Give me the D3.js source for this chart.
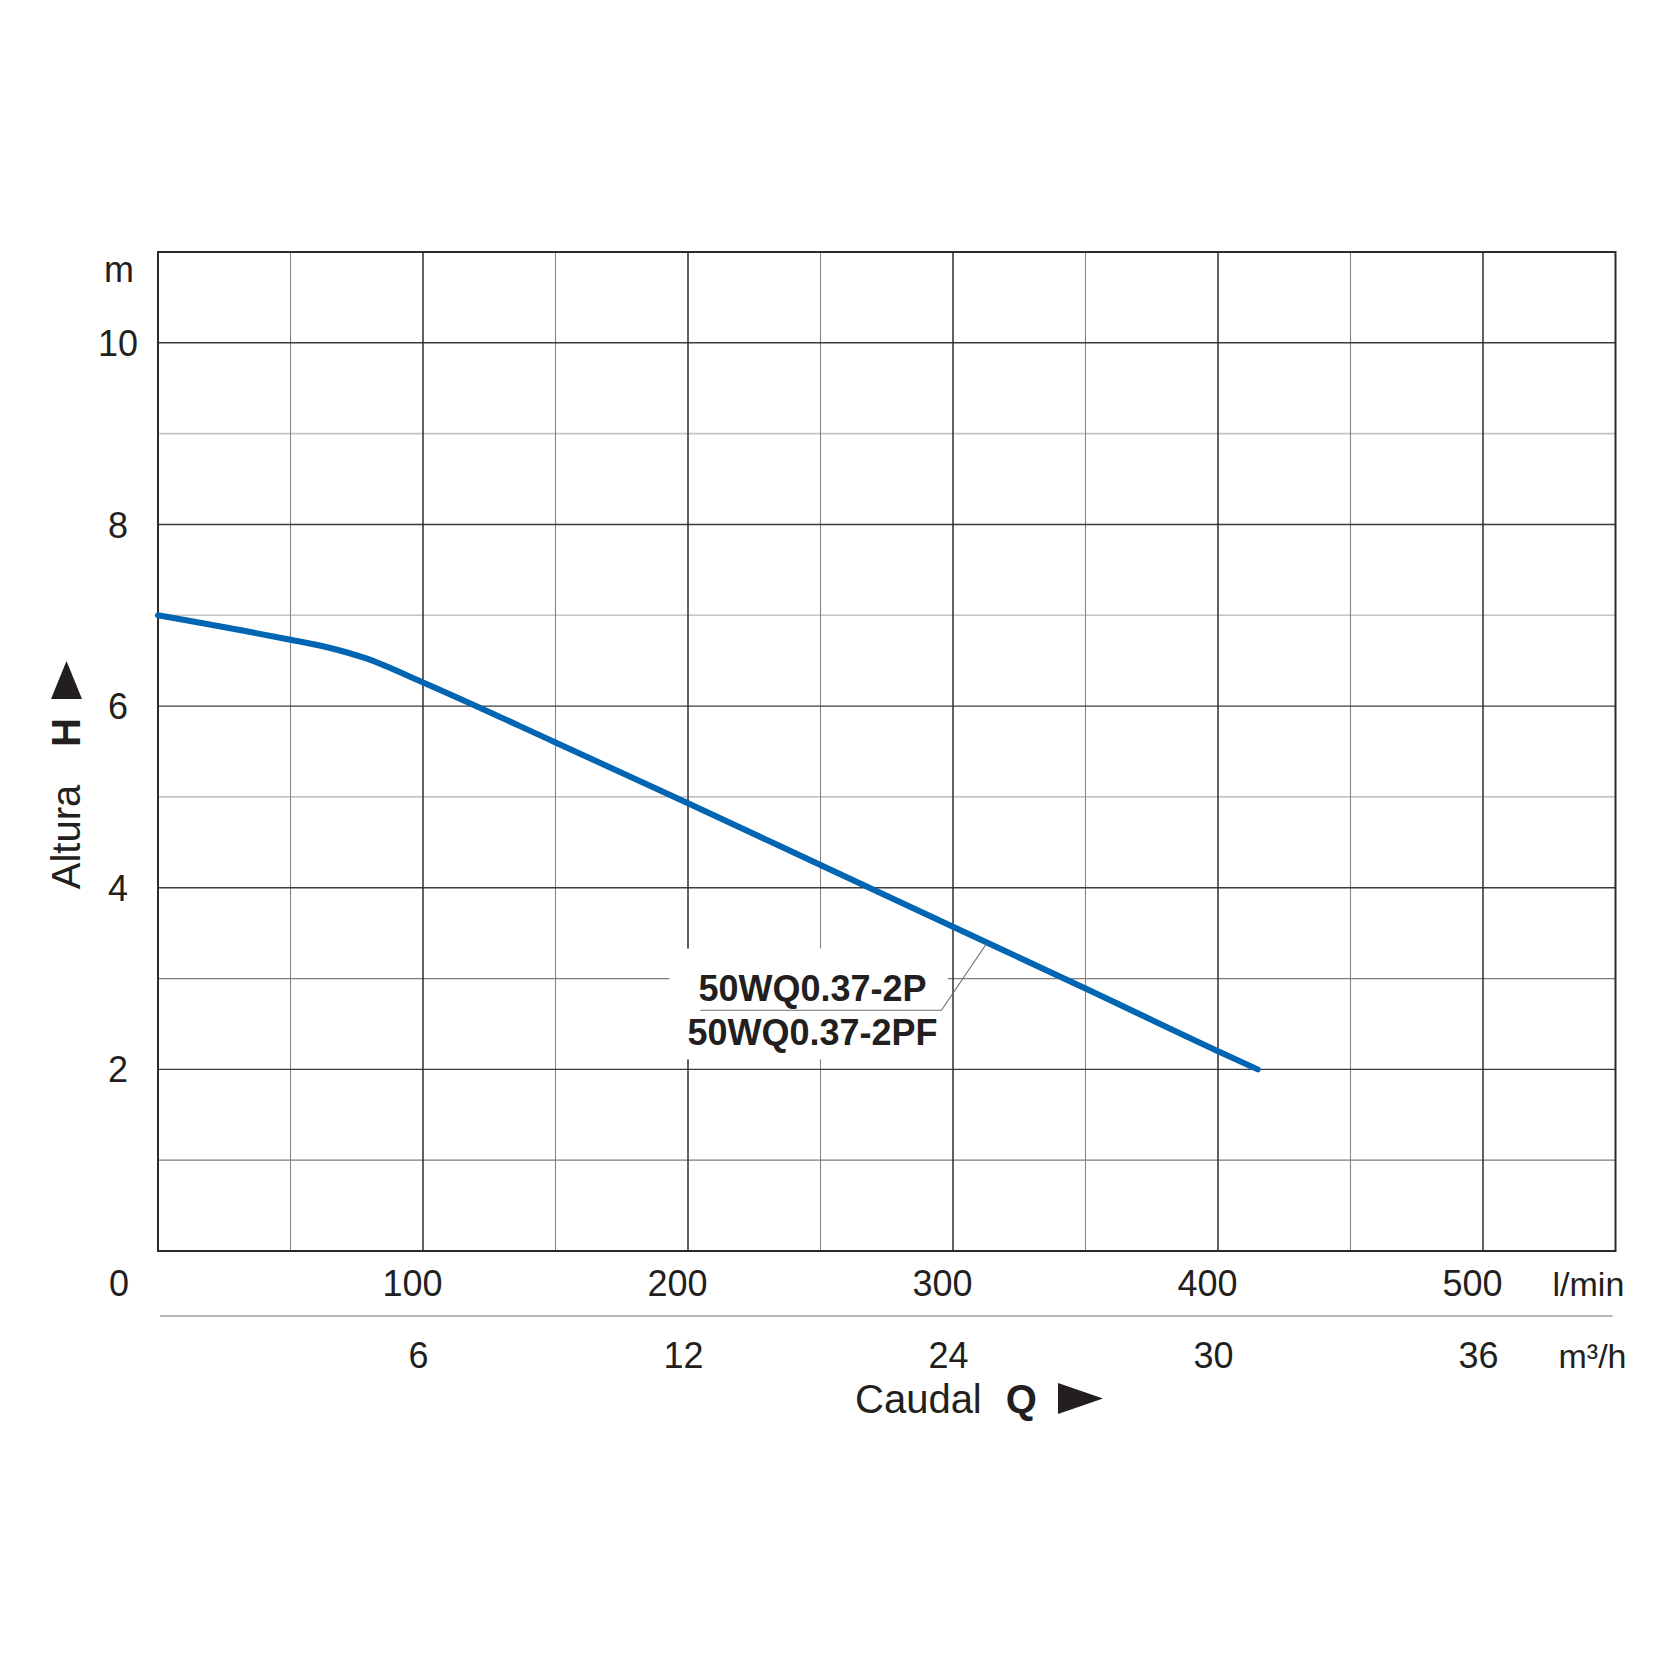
<html>
<head>
<meta charset="utf-8">
<script src="https://d3js.org/d3.v7.min.js"></script>
<style>
  body { margin: 0; background: #fff; }
  text { font-family: "Liberation Sans", Arial, Helvetica, sans-serif; fill: #231f20; }
</style>
</head>
<body>
<div id="chart"></div>
<script>
// pump curve: flow in l/min, head in m
const flowLmin = [0, 50, 65, 78, 100, 150, 200, 250, 300, 350, 400, 415];
const headM    = [7.0, 6.73, 6.64, 6.53, 6.26, 5.60, 4.93, 4.25, 3.57, 2.89, 2.20, 2.0];

// axis ticks and labels
const lminTicks  = [100, 200, 300, 400, 500];
const m3hLabels  = ["6", "12", "24", "30", "36"];
const headTicks  = [2, 4, 6, 8, 10];
const xMajor = [100, 200, 300, 400, 500];
const xMinor = [50, 150, 250, 350, 450];
const yMajor = [2, 4, 6, 8, 10];
const yMinorDark  = [1, 3];
const yMinorLight = [5, 7, 9];

const modelNames = ["50WQ0.37-2P", "50WQ0.37-2PF"];
const labelAnchor = [313, 3.40];   // where the leader touches the curve

let margin = {top: 252, left: 158},
    width = 1457.5,
    height = 999;

const svg = d3.select("#chart")
  .append("svg")
    .attr("width", 1667)
    .attr("height", 1667)
  .append("g")
    .attr("transform", `translate(${margin.left}, ${margin.top})`);

const x = d3.scaleLinear().domain([0, 550]).range([0, width]);
const y = d3.scaleLinear().domain([0, 11]).range([height, 0]);

// grid lines
function vgrid(vals, color, w) {
  svg.append("g").selectAll("line").data(vals).join("line")
    .attr("x1", d => x(d)).attr("x2", d => x(d))
    .attr("y1", 0).attr("y2", height)
    .attr("stroke", color).attr("stroke-width", w);
}
function hgrid(vals, color, w) {
  svg.append("g").selectAll("line").data(vals).join("line")
    .attr("x1", 0).attr("x2", width)
    .attr("y1", d => y(d)).attr("y2", d => y(d))
    .attr("stroke", color).attr("stroke-width", w);
}
hgrid(yMinorLight, "#c4c4c4", 1.6);
hgrid(yMinorDark, "#7c7c7c", 1.2);
vgrid(xMinor, "#858585", 1.1);
hgrid(yMajor, "#3c3c3c", 1.4);
vgrid(xMajor, "#2e2e2e", 1.5);

// frame
svg.append("rect")
  .attr("x", 0).attr("y", 0)
  .attr("width", width).attr("height", height)
  .attr("fill", "none")
  .attr("stroke", "#2b2b2b")
  .attr("stroke-width", 2);

// white box behind the model label
svg.append("rect")
  .attr("x", x(193)).attr("y", y(3.33))
  .attr("width", x(298) - x(193))
  .attr("height", y(2.11) - y(3.33))
  .attr("fill", "#fff");

// curve
const pts = flowLmin.map((q, i) => [q, headM[i]]);
svg.append("path")
  .datum(pts)
  .attr("fill", "none")
  .attr("stroke", "#0066b3")
  .attr("stroke-width", 6)
  .attr("stroke-linecap", "round")
  .attr("d", d3.line().x(d => x(d[0])).y(d => y(d[1])).curve(d3.curveMonotoneX));

// leader line
const lx = x(labelAnchor[0]), ly = y(labelAnchor[1]);
svg.append("polyline")
  .attr("points", `${lx - 287},${ly + 68} ${lx - 46},${ly + 68} ${lx},${ly}`)
  .attr("fill", "none")
  .attr("stroke", "#6d6d6d")
  .attr("stroke-width", 1.1);

// model names
svg.append("g").selectAll("text").data(modelNames).join("text")
  .attr("x", x(247))
  .attr("y", (d, i) => y(2.75) + i * 44)
  .attr("text-anchor", "middle")
  .style("font-size", "36px")
  .style("font-weight", "bold")
  .text(d => d);

// bottom axis: l/min
const xAxis = svg.append("g")
  .attr("transform", `translate(0, ${height})`)
  .call(d3.axisBottom(x).tickValues(lminTicks).tickSize(0).tickPadding(19));
xAxis.select(".domain").remove();
xAxis.selectAll("text")
  .attr("dx", -11)
  .style("font-size", "36px")
  .style("font-family", "'Liberation Sans', Arial, sans-serif")
  .attr("fill", "#231f20");

// separator line between the two flow scales
svg.append("line")
  .attr("x1", 2).attr("x2", width - 3)
  .attr("y1", height + 65).attr("y2", height + 65)
  .attr("stroke", "#a0a0a0")
  .attr("stroke-width", 1.6);

// second flow row: m3/h
const xAxis2 = svg.append("g")
  .attr("transform", `translate(0, ${height})`)
  .call(d3.axisBottom(x).tickValues(lminTicks)
        .tickFormat((d, i) => m3hLabels[i]).tickSize(0).tickPadding(91));
xAxis2.select(".domain").remove();
xAxis2.selectAll("text")
  .attr("dx", -5)
  .style("font-size", "36px")
  .style("font-family", "'Liberation Sans', Arial, sans-serif")
  .attr("fill", "#231f20");

// left axis: head
const yAxis = svg.append("g")
  .call(d3.axisLeft(y).tickValues(headTicks).tickSize(0));
yAxis.select(".domain").remove();
yAxis.selectAll("text")
  .attr("x", -40)
  .attr("dy", "0.35em")
  .attr("text-anchor", "middle")
  .style("font-size", "36px")
  .style("font-family", "'Liberation Sans', Arial, sans-serif")
  .attr("fill", "#231f20");

// zero, units
svg.append("text").attr("x", -39).attr("y", height + 45)
  .attr("text-anchor", "middle").style("font-size", "36px").text("0");
svg.append("text").attr("x", -39).attr("y", 30)
  .attr("text-anchor", "middle").style("font-size", "36px").text("m");
svg.append("text").attr("x", width - 63).attr("y", height + 45)
  .style("font-size", "34px").text("l/min");
svg.append("text").attr("x", width - 57).attr("y", height + 117)
  .style("font-size", "34px").text("m³/h");

// x title
const xt = svg.append("text")
  .attr("x", 697).attr("y", height + 162)
  .style("font-size", "40px");
xt.append("tspan").text("Caudal");
xt.append("tspan").attr("dx", 24).style("font-weight", "bold").text("Q");
svg.append("path")
  .attr("d", `M${900},${height + 132} L${900},${height + 163} L${945},${height + 147.5} Z`)
  .attr("fill", "#231f20");

// y title
svg.append("text")
  .attr("transform", `translate(${80 - margin.left}, ${585}) rotate(-90)`)
  .attr("text-anchor", "middle")
  .style("font-size", "40px")
  .text("Altura");
svg.append("text")
  .attr("transform", `translate(${80 - margin.left}, ${468 + 27}) rotate(-90)`)
  .attr("text-anchor", "start")
  .style("font-size", "40px")
  .style("font-weight", "bold")
  .text("H");
svg.append("path")
  .attr("d", `M${51 - margin.left},${447} L${82 - margin.left},${447} L${66.5 - margin.left},${409} Z`)
  .attr("fill", "#231f20");
</script>
</body>
</html>
